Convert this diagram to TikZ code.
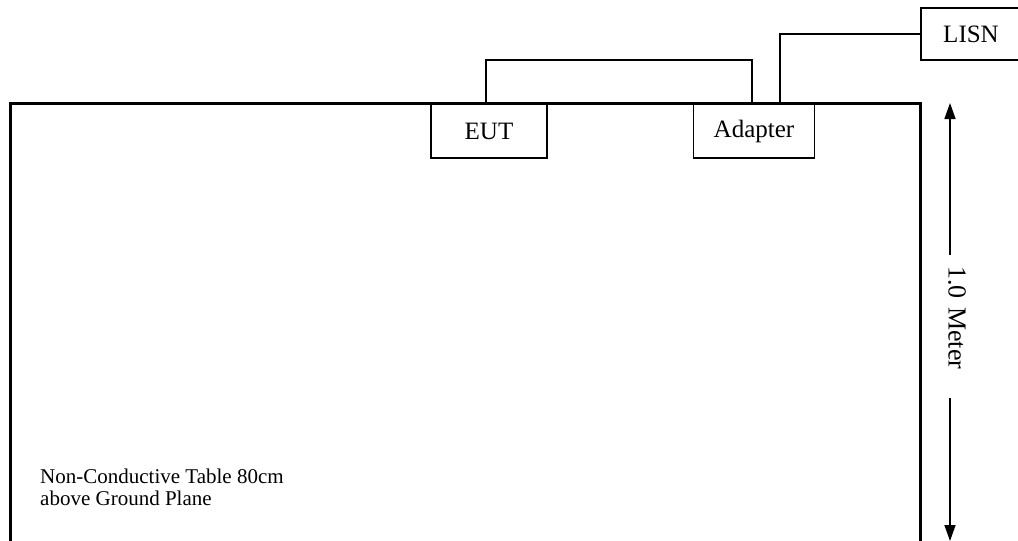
\documentclass[tikz,border=0pt]{standalone}
\usepackage{fontspec}
\setmainfont{Liberation Serif}
\usetikzlibrary{arrows.meta}
\begin{document}
\begin{tikzpicture}[x=1pt,y=-1pt,
  lbl/.style={font=\fontsize{21}{22}\selectfont},
  boxlbl/.style={font=\fontsize{25}{27}\selectfont},
  boxnode/.style={boxlbl,draw,fill=white,line width=1.3pt,inner sep=0pt,minimum height=54pt},
  wire/.style={line width=1.5pt},
  tableline/.style={line width=3pt},
  dimarrow/.style={line width=1.5pt,-{Triangle[length=16pt,width=11pt]}}]
\useasboundingbox (0,0) rectangle (1018,541);
% table outline
\draw[tableline] (10,560) -- (10,103) -- (920,103) -- (920,560);
% boxes
\node[boxnode,minimum width=116pt] (eut) at (489,131) {EUT};
\node[boxnode,minimum width=121pt] (adapter) at (754,131) {Adapter};
\node[boxnode,minimum width=100pt,minimum height=52pt] (lisn) at (971,34) {LISN};
% wires
\coordinate (eutw) at (486,103);
\coordinate (adw) at (752,103);
\coordinate (adl) at (780,103);
\draw[wire] (eutw) |- (621,60) -| (adw);
\draw[wire] (adl) |- (lisn.west);
% dimension
\coordinate (atop) at (950,103);
\coordinate (abot) at (950,541);
\node[font=\fontsize{26}{28}\selectfont,rotate=-90,inner sep=0pt,minimum width=144pt,text width=122pt,align=left,inner xsep=11pt] (meter) at (957,327) {1.0 Meter};
\draw[dimarrow] (950,255) -- (atop);
\draw[dimarrow] (950,398) -- (abot);
% table label
\node[lbl,anchor=north west,align=left,inner sep=0pt] (tlabel) at (40,469) {Non-Conductive Table 80cm\\above Ground Plane};
\end{tikzpicture}
\end{document}
